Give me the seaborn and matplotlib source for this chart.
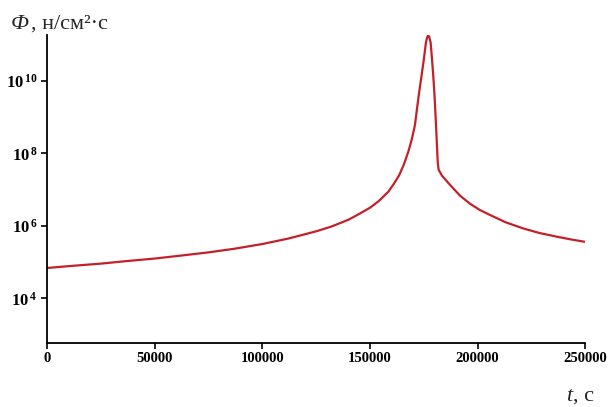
import numpy as np
import pandas as pd
import matplotlib
matplotlib.use("Agg")
import matplotlib.pyplot as plt
import matplotlib.ticker as mticker
import seaborn as sns

# Data: time in s, log10 of flux (n/cm^2*s)
time_s = [0, 12000, 25000, 37000, 50000, 62000, 75000, 87000, 100000,
          112000, 125000, 132000, 140000, 145000, 150000, 154000, 158500,
          161000, 163600, 165800, 167800, 169500, 170900, 171900, 172900,
          174000, 175100, 176000, 176600, 177100, 177600, 178200, 178800,
          179400, 179900, 180300, 180700, 181100, 181500, 181900, 183500,
          187200, 191900, 196500, 201000, 205800, 213000, 221200, 229000,
          237000, 244000, 250000]
log_flux = [4.84, 4.90, 4.96, 5.03, 5.10, 5.18, 5.27, 5.37, 5.50,
            5.65, 5.85, 5.98, 6.17, 6.33, 6.50, 6.68, 6.94,
            7.15, 7.40, 7.70, 8.04, 8.40, 8.78, 9.25, 9.70,
            10.15, 10.62, 11.05, 11.20, 11.25, 11.20, 11.05, 10.62,
            10.15, 9.70, 9.25, 8.78, 8.25, 7.75, 7.55, 7.38,
            7.13, 6.83, 6.61, 6.44, 6.30, 6.10, 5.93, 5.80,
            5.70, 5.62, 5.56]

x_ticks = [0, 50000, 100000, 150000, 200000, 250000]
y_ticks = [1e4, 1e6, 1e8, 1e10]

df = pd.DataFrame({"t": time_s, "flux": 10 ** np.array(log_flux)})

sns.set_style("ticks")
plt.rcParams["font.family"] = ["Liberation Serif", "DejaVu Serif"]
plt.rcParams["mathtext.fontset"] = "custom"
plt.rcParams["mathtext.rm"] = "Liberation Serif:bold"
plt.rcParams["mathtext.bf"] = "Liberation Serif:bold"

fig = plt.figure(figsize=(6.11, 4.07), dpi=100)
ax = fig.add_axes([0.0777, 0.158, 0.8798, 0.756])

sns.lineplot(data=df, x="t", y="flux", color="#c4202a", linewidth=1.6, ax=ax)

ax.set_yscale("log")
ax.set_xlim(0, 250000)
ax.set_ylim(10 ** 2.78, 10 ** 11.26)
ax.set_xticks(x_ticks)
ax.set_xticklabels([str(v) for v in x_ticks], fontweight="bold", fontsize=10.5)
ax.set_yticks(y_ticks)
ax.yaxis.set_minor_locator(mticker.NullLocator())
ax.set_yticklabels([r"$\mathbf{10^{\,%d}}$" % int(np.log10(v)) for v in y_ticks], fontsize=12)
ax.tick_params(axis="both", direction="out", length=4, width=1.2, colors="black", pad=3)
ax.set_xlabel("")
ax.set_ylabel("")

sns.despine(ax=ax)
for side in ["left", "bottom"]:
    ax.spines[side].set_linewidth(1.3)
    ax.spines[side].set_color("black")

# axis titles
fig.text(11 / 611, 1 - 29 / 407, "Ф", fontsize=16, style="italic")
fig.text(31 / 611, 1 - 29 / 407, ", н/см²·с", fontsize=16)
fig.text(566 / 611, 1 - 401 / 407, "t", fontsize=16, style="italic")
fig.text(573 / 611, 1 - 401 / 407, ", с", fontsize=16)

fig.savefig("out.png", dpi=100)
